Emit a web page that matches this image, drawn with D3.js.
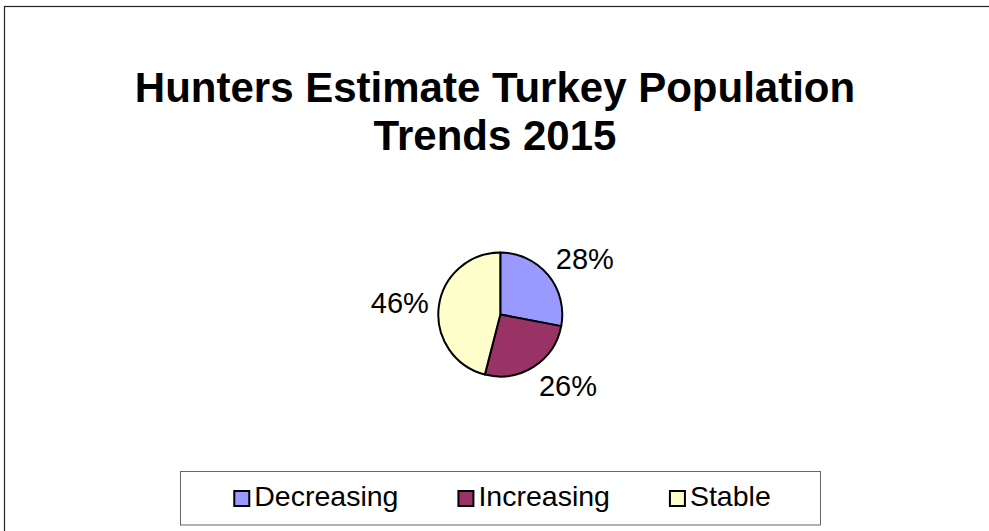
<!DOCTYPE html>
<html>
<head>
<meta charset="utf-8">
<script src="https://cdn.jsdelivr.net/npm/d3@7"></script>
<style>
  html, body { margin: 0; padding: 0; background: #fff; }
  svg { display: block; font-family: "Liberation Sans", Arial, sans-serif; }
</style>
</head>
<body>
<svg id="chart" width="989" height="531"></svg>
<script>
// Survey result: hunters' view of the turkey population trend
const titleLines = ["Hunters Estimate Turkey Population", "Trends 2015"];
const categories = ["Decreasing", "Increasing", "Stable"];
const shares = [28, 26, 46];
const colors = ["#9999FF", "#993366", "#FFFFCC"];

const svg = d3.select("#chart");
const W = 989, H = 531;

// chart area frame (runs off the right and bottom edges)
svg.append("rect")
  .attr("x", 4.5).attr("y", 6.5)
  .attr("width", W + 20).attr("height", H + 20)
  .attr("fill", "#fff")
  .attr("stroke", "#222").attr("stroke-width", 1.2);

// title
const title = svg.append("text")
  .attr("text-anchor", "middle")
  .attr("font-size", 42)
  .attr("font-weight", "bold")
  .attr("fill", "#000");
titleLines.forEach((t, i) => {
  title.append("tspan").attr("x", 495).attr("y", 102 + i * 48).text(t);
});

// pie
const cx = 500.3, cy = 314.5, r = 62;
const color = d3.scaleOrdinal().domain(categories).range(colors);
const data = categories.map((c, i) => ({ name: c, value: shares[i] }));
const pie = d3.pie().sort(null).value(d => d.value);
const arcs = pie(data);
const arc = d3.arc().innerRadius(0).outerRadius(r);

const g = svg.append("g").attr("transform", `translate(${cx},${cy})`);
g.selectAll("path.slice")
  .data(arcs)
  .join("path")
  .attr("class", "slice")
  .attr("d", arc)
  .attr("fill", d => color(d.data.name))
  .attr("stroke", "#000")
  .attr("stroke-width", 2)
  .attr("stroke-linejoin", "round");

// percentage labels outside the slices: the label box touches a point
// just beyond the rim at the slice's middle angle
const labelFont = 29;
const anchorR = 72;
const clamp = v => Math.max(-1, Math.min(1, v));
const labels = g.selectAll("text.lbl")
  .data(arcs)
  .join("text")
  .attr("class", "lbl")
  .attr("font-size", labelFont)
  .attr("fill", "#000")
  .attr("text-anchor", "middle")
  .text(d => d.data.value + "%");

labels.each(function (d) {
  const a = (d.startAngle + d.endAngle) / 2;
  const s = Math.sin(a), c = Math.cos(a);
  const w = this.getComputedTextLength();
  const h = labelFont * 0.716;
  const x = anchorR * s + (w / 2) * clamp(s / 0.5);
  const yc = -anchorR * c - (h / 2) * clamp(c / 0.5);
  d3.select(this).attr("x", x).attr("y", yc + h / 2);
});

// legend
const legBox = { x: 180.5, y: 471.5, w: 640, h: 53.5 };
svg.append("rect")
  .attr("x", legBox.x).attr("y", legBox.y)
  .attr("width", legBox.w).attr("height", legBox.h)
  .attr("fill", "#fff")
  .attr("stroke", "#666").attr("stroke-width", 1);

const legFont = 28.5, sw = 15, textGap = 20, itemGap = 60;
const leg = svg.append("g");
const items = leg.selectAll("g.item")
  .data(categories)
  .join("g")
  .attr("class", "item");
items.append("rect")
  .attr("width", sw).attr("height", sw)
  .attr("y", 491)
  .attr("fill", d => color(d))
  .attr("stroke", "#000").attr("stroke-width", 2);
items.append("text")
  .attr("font-size", legFont)
  .attr("y", 506)
  .attr("fill", "#000")
  .text(d => d);

let xpos = 0;
const offsets = [];
items.each(function () {
  offsets.push(xpos);
  const tw = d3.select(this).select("text").node().getComputedTextLength();
  xpos += textGap + tw + itemGap;
});
const total = xpos - itemGap;
const startX = legBox.x + legBox.w / 2 - total / 2 + 2;
items.each(function (d, i) {
  const gx = startX + offsets[i];
  d3.select(this).select("rect").attr("x", gx);
  d3.select(this).select("text").attr("x", gx + textGap);
});
</script>
</body>
</html>
